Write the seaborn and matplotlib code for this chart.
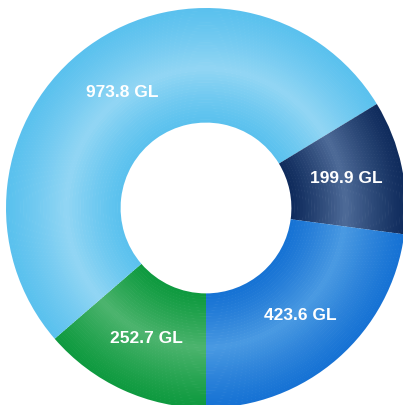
"""
Donut chart of volumes (GL) with a soft radial shading
"""

import numpy as np
import matplotlib
matplotlib.use('Agg')
import matplotlib.pyplot as plt
import matplotlib.colors as mcolors
import seaborn as sns

# data, listed clockwise starting from the bottom
volumes = [252.7, 973.8, 199.9, 423.6]
labels = [f'{v:.1f} GL' for v in volumes]

# edge colour and highlight colour per slice
edge_colors = ['#0E9A3F', '#5AC1EE', '#0F2B5C', '#1672D4']
band_colors = ['#4DB46E', '#92D6F4', '#4E6B98', '#4A9AE2']

sns.set_theme(style='white')
plt.rcParams['font.family'] = ['Liberation Sans', 'DejaVu Sans']

fig = plt.figure(figsize=(4.03, 4.05), dpi=100)
ax = fig.add_axes([0, 0, 1, 1])

inner = 0.43
outer = 1.0
peak = 0.70
n_rings = 40
edges = np.linspace(inner, outer, n_rings + 1)

for r0, r1 in zip(edges[:-1], edges[1:]):
    rm = (r0 + r1) / 2
    span = (peak - inner) if rm < peak else (outer - peak)
    t = max(0.0, 1 - abs(rm - peak) / span) ** 1.2
    cols = []
    for c0, c1 in zip(edge_colors, band_colors):
        a = np.array(mcolors.to_rgb(c0))
        b = np.array(mcolors.to_rgb(c1))
        cols.append(a + (b - a) * t)
    ax.pie(volumes, radius=r1, colors=cols, startangle=-90, counterclock=False,
           wedgeprops=dict(width=r1 - r0 + 0.003, linewidth=0))

# labels placed at the middle of each slice
total = sum(volumes)
label_r = 0.715
angle = -90.0
for v, lab in zip(volumes, labels):
    sweep = 360.0 * v / total
    mid = np.deg2rad(angle - sweep / 2)
    angle -= sweep
    ax.text(label_r * np.cos(mid), label_r * np.sin(mid), lab, ha='center', va='center',
            color='white', fontsize=12.5, fontweight='bold')

ax.set_xlim(-1.03, 0.985)
ax.set_ylim(-0.985, 1.04)
ax.set_aspect('equal')
ax.axis('off')

plt.savefig('out.png', dpi=100)
plt.close()
